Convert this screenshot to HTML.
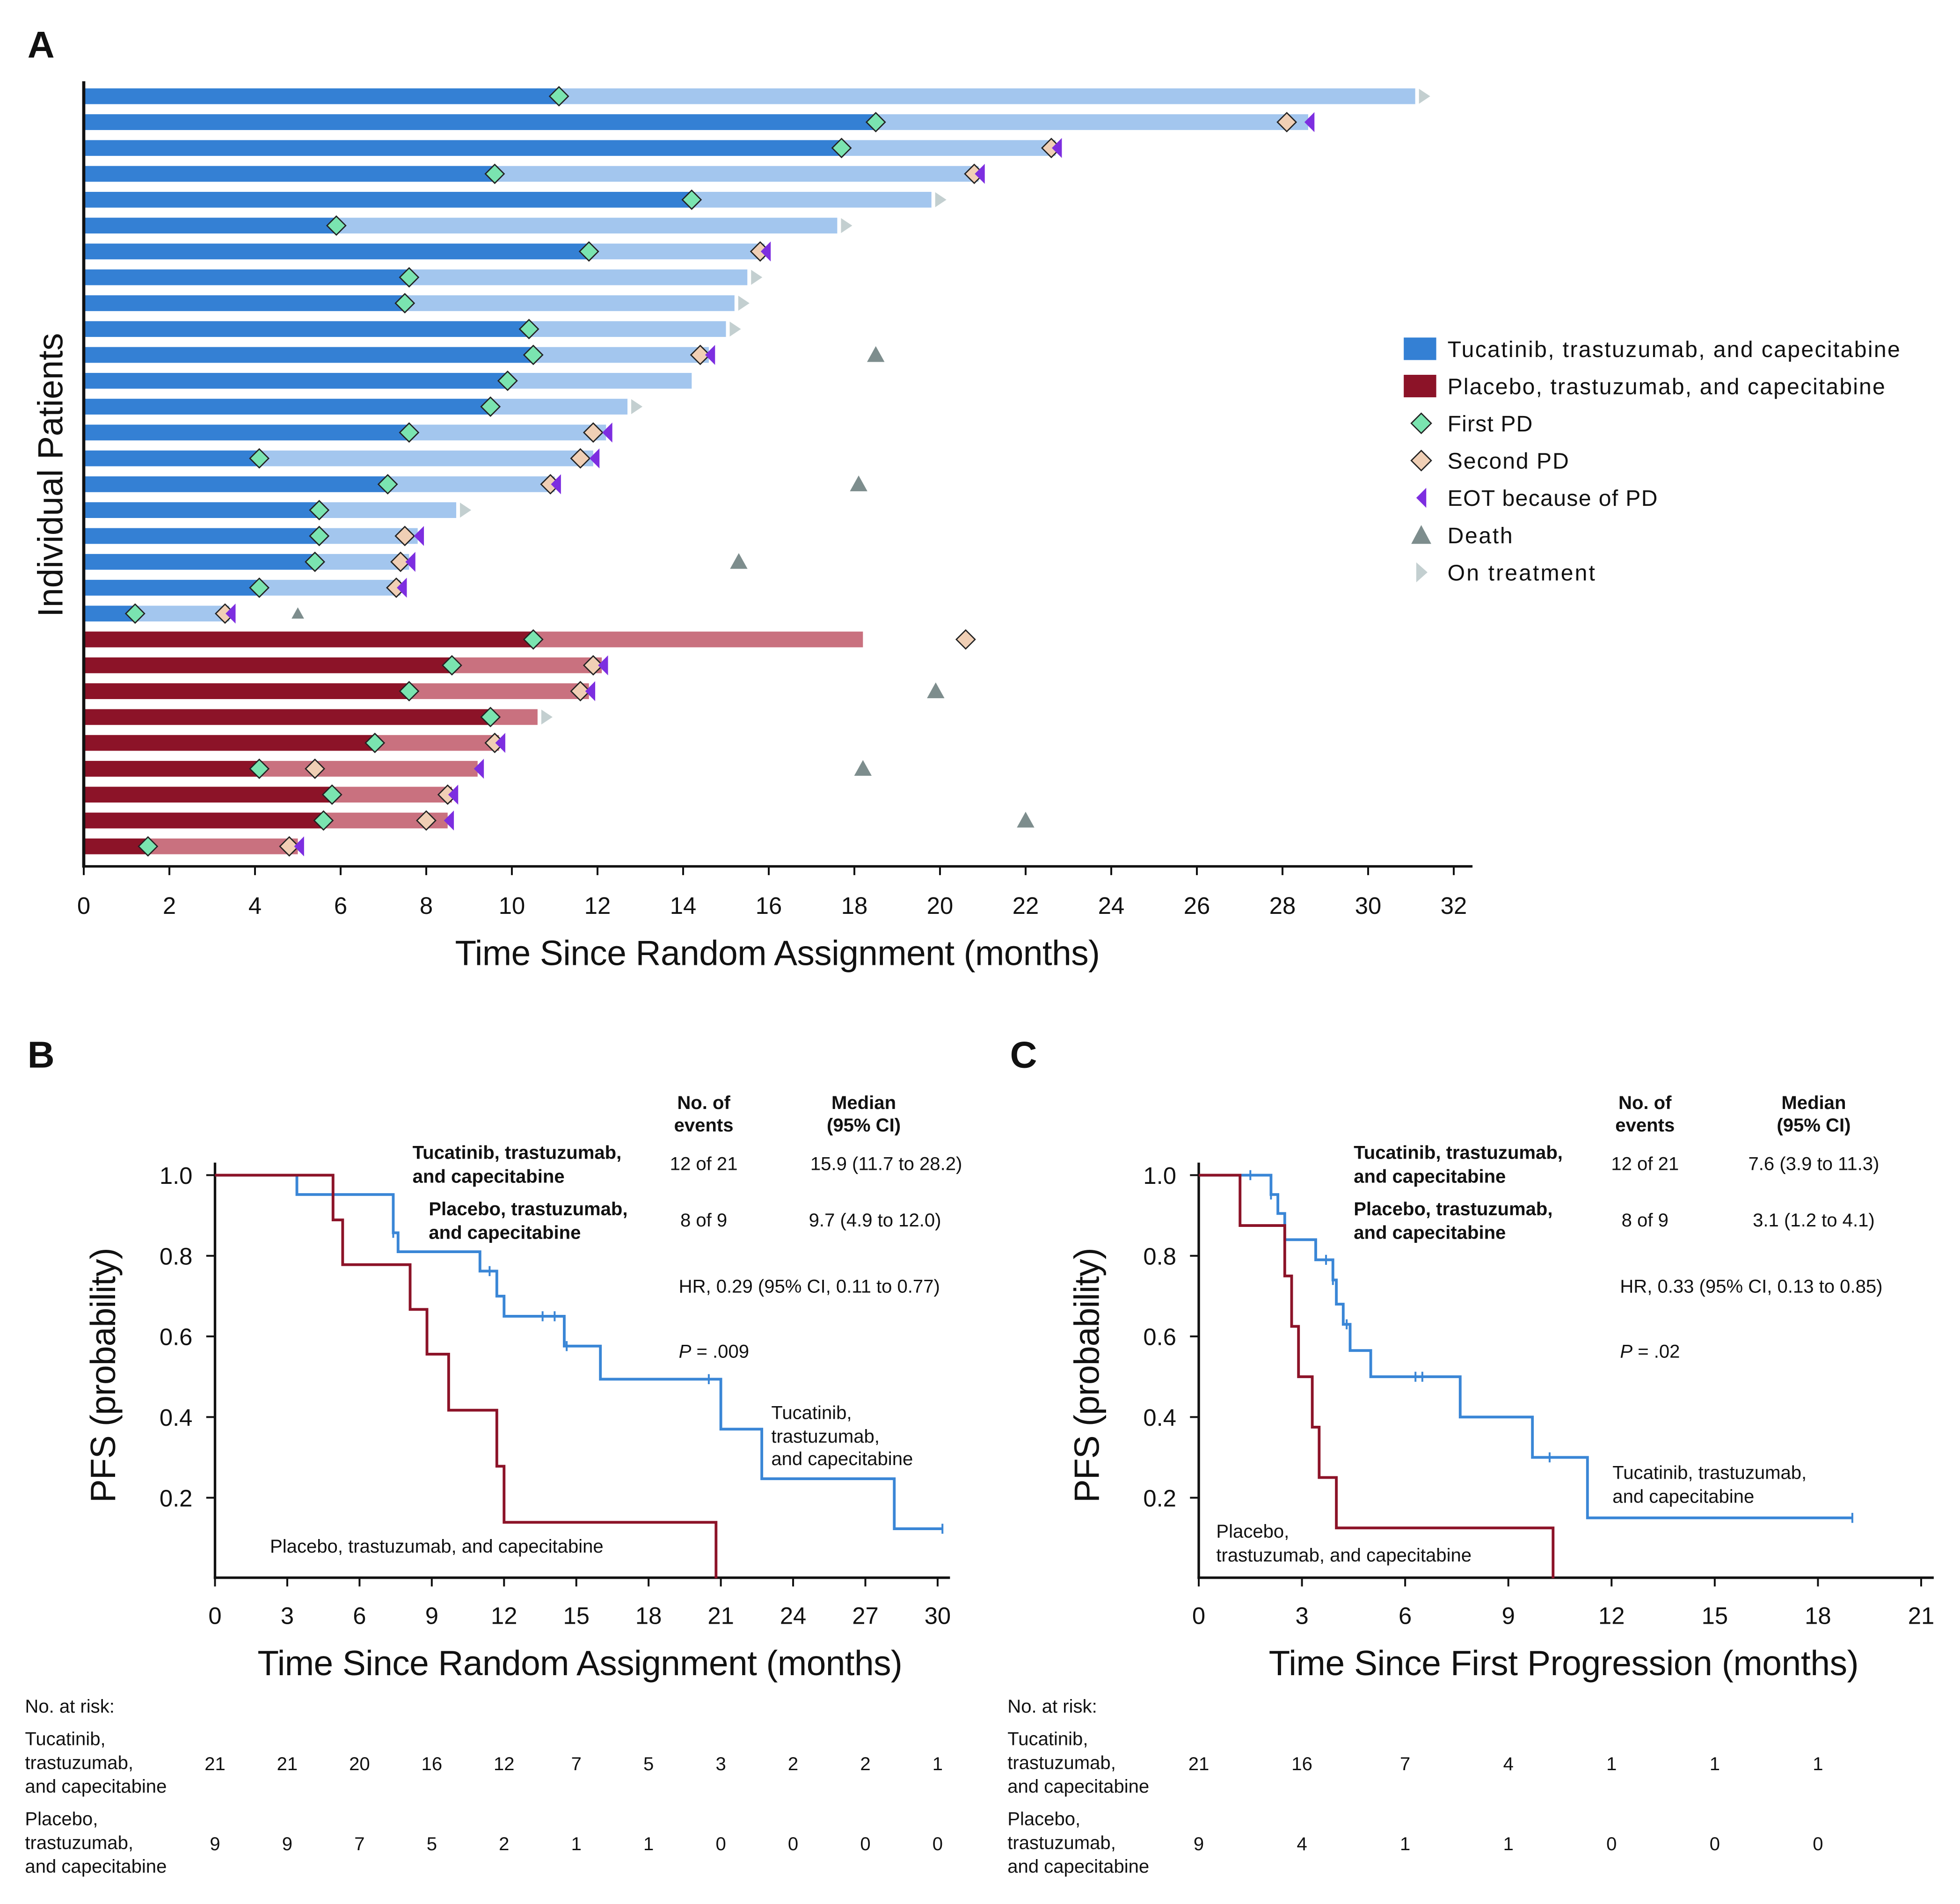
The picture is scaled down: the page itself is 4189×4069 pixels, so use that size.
<!DOCTYPE html>
<html><head><meta charset="utf-8"><style>
html,body{margin:0;padding:0;background:#fff}
svg{display:block}
text{font-family:"Liberation Sans",Arial,sans-serif;fill:#111}
.t{font-size:19px}
.ttl{font-size:28px;font-family:"Liberation Sans Narrow","Liberation Sans",sans-serif}
.s{font-size:15px}
.b{font-weight:bold}
</style></head><body>
<svg id="fig" xmlns="http://www.w3.org/2000/svg" width="4189" height="4069" viewBox="0 0 1568 1523" preserveAspectRatio="none">
<g id="A"></g>
<g id="B"></g>
<g id="C"></g>
</svg>
<script>
// ---------- Panel A data ----------
const armA = ['T','T','T','T','T','T','T','T','T','T','T','T','T','T','T','T','T','T','T','T','T','P','P','P','P','P','P','P','P','P'];
const firstPD = [11.1,18.5,17.7,9.6,14.2,5.9,11.8,7.6,7.5,10.4,10.5,9.9,9.5,7.6,4.1,7.1,5.5,5.5,5.4,4.1,1.2,10.5,8.6,7.6,9.5,6.8,4.1,5.8,5.6,1.5];
const barEnd = [31.1,28.6,22.7,20.9,19.8,17.6,15.9,15.5,15.2,15.0,14.6,14.2,12.7,12.2,11.9,11.0,8.7,7.8,7.6,7.4,3.4,18.2,12.1,11.8,10.6,9.7,9.2,8.6,8.5,5.0];
const secondPD = [null,28.1,22.6,20.8,null,null,15.8,null,null,null,14.4,null,null,11.9,11.6,10.9,null,7.5,7.4,7.3,3.3,20.6,11.9,11.6,null,9.6,5.4,8.5,8.0,4.8];
const eotPD = [null,28.6,22.7,20.9,null,null,15.9,null,null,null,14.6,null,null,12.2,11.9,11.0,null,7.8,7.6,7.4,3.4,null,12.1,11.8,null,9.7,9.2,8.6,8.5,5.0];
const onTreat = [31.1,null,null,null,19.8,17.6,null,15.5,15.2,15.0,null,null,12.7,null,null,null,8.7,null,null,null,null,null,null,null,10.6,null,null,null,null,null];
const death = [null,null,null,null,null,null,null,null,null,null,18.5,null,null,null,null,18.1,null,null,15.3,null,5.0,null,null,19.9,null,null,18.2,null,22.0,null];
const xTicksA = [0,2,4,6,8,10,12,14,16,18,20,22,24,26,28,30,32];

// ---------- Panel B data ----------
const bBlueT = [0,3.4,7.4,7.6,11.0,11.7,12.0,14.5,16.0,21.0,22.7,28.2,30.2];
const bBlueS = [1.0,0.952,0.857,0.81,0.762,0.70,0.65,0.576,0.494,0.37,0.247,0.123,0.123];
const bBlueCens = [7.4,11.4,13.6,14.1,14.6,20.5,30.2];
const bRedT = [0,4.9,5.3,8.1,8.8,9.7,11.7,12.0,20.8];
const bRedS = [1.0,0.889,0.778,0.667,0.556,0.417,0.278,0.139,0];
const xTicksB = [0,3,6,9,12,15,18,21,24,27,30];
const riskBT = [21,21,20,16,12,7,5,3,2,2,1];
const riskBP = [9,9,7,5,2,1,1,0,0,0,0];

// ---------- Panel C data ----------
const cBlueT = [0,2.1,2.3,2.5,3.4,3.9,4.0,4.2,4.4,5.0,7.6,9.7,11.3,19.0];
const cBlueS = [1.0,0.952,0.905,0.84,0.79,0.74,0.68,0.63,0.565,0.50,0.40,0.30,0.15,0.15];
const cBlueCens = [1.5,2.1,3.7,3.9,4.3,6.3,6.5,10.2,19.0];
const cRedT = [0,1.2,2.5,2.7,2.9,3.3,3.5,4.0,10.3];
const cRedS = [1.0,0.875,0.75,0.625,0.5,0.375,0.25,0.125,0];
const xTicksC = [0,3,6,9,12,15,18,21];
const riskCT = [21,16,7,4,1,1,1];
const riskCP = [9,4,1,1,0,0,0];
const yTicks = [0.2,0.4,0.6,0.8,1.0];

const NS='http://www.w3.org/2000/svg';
function mk(parent,tag,attrs,txt){const e=document.createElementNS(NS,tag);for(const k in attrs)e.setAttribute(k,attrs[k]);if(txt!==undefined)e.textContent=txt;parent.appendChild(e);return e;}

// ===== Panel A =====
const A=document.getElementById('A');
const axA=v=>67+v*34.25;
const rowY=i=>77+i*20.69;
let e;
e=mk(A,'text',{x:22,y:46,'font-size':30,'font-weight':'bold'},'A');


for(let i=0;i<armA.length;i++){
  const y=rowY(i),T=armA[i]==='T';
  const dk=T?'#3480d4':'#8c1328',lt=T?'#a3c6ee':'#c9717f';
  e=mk(A,'rect',{x:axA(0),y:y-6.3,width:axA(barEnd[i])-axA(0),height:12.6,fill:lt});
  
  
  e=mk(A,'rect',{x:axA(0),y:y-6.3,width:axA(firstPD[i])-axA(0),height:12.6,fill:dk});
  
  
  if(onTreat[i]!=null){const x=axA(onTreat[i])+3;
    e=mk(A,'polygon',{points:`${x},${y-6} ${x+9},${y} ${x},${y+6}`,fill:'#c3cfd0'});
    
    }
  if(secondPD[i]!=null){const x=axA(secondPD[i]);
    e=mk(A,'polygon',{points:`${x},${y-7.5} ${x+7.5},${y} ${x},${y+7.5} ${x-7.5},${y}`,fill:'#f0cfb5',stroke:'#222','stroke-width':1});
    
    }
  if(eotPD[i]!=null){const x=axA(eotPD[i])+5;
    e=mk(A,'polygon',{points:`${x},${y-8} ${x-8},${y} ${x},${y+8}`,fill:'#7d2ee0'});
    
    }
  {const x=axA(firstPD[i]);
    e=mk(A,'polygon',{points:`${x},${y-7.5} ${x+7.5},${y} ${x},${y+7.5} ${x-7.5},${y}`,fill:'#7ae4b0',stroke:'#222','stroke-width':1});
    
    }
  if(death[i]!=null){const x=axA(death[i]);const s=i===20?5:7;
    e=mk(A,'polygon',{points:`${x},${y-s} ${x+s},${y+s*0.8} ${x-s},${y+s*0.8}`,fill:'#7d8d8d'});
    
    }
}
e=mk(A,'line',{x1:67,y1:65,x2:67,y2:694,stroke:'#111','stroke-width':2.5});


e=mk(A,'line',{x1:66,y1:693,x2:1178,y2:693,stroke:'#111','stroke-width':2});


xTicksA.forEach(v=>{
  e=mk(A,'line',{x1:axA(v),y1:693,x2:axA(v),y2:700,stroke:'#111','stroke-width':1.5});
  
  
  e=mk(A,'text',{x:axA(v),y:731,'text-anchor':'middle',class:'t'},String(v));
  
  
});
e=mk(A,'text',{x:622,y:772,'text-anchor':'middle',class:'ttl',textLength:516},'Time Since Random Assignment (months)');


e=mk(A,'text',{x:50,y:380,'text-anchor':'middle',class:'ttl',transform:'rotate(-90 50 380)'},'Individual Patients');


// legend
const lg=mk(A,'g',{});


const legT=['Tucatinib, trastuzumab, and capecitabine','Placebo, trastuzumab, and capecitabine','First PD','Second PD','EOT because of PD','Death','On treatment'];
const legW=[362,350,68,97,168,52,118];
legT.forEach((t,k)=>{
  const y=279+k*29.8,x=1137;
  if(k<2) mk(lg,'rect',{x:1123,y:y-9,width:26,height:18,fill:k?'#8c1328':'#3480d4'});
  else if(k<4) mk(lg,'polygon',{points:`${x},${y-8} ${x+8},${y} ${x},${y+8} ${x-8},${y}`,fill:k===2?'#7ae4b0':'#f0cfb5',stroke:'#222','stroke-width':1});
  else if(k===4) mk(lg,'polygon',{points:`${x+4},${y-8} ${x-4},${y} ${x+4},${y+8}`,fill:'#7d2ee0'});
  else if(k===5) mk(lg,'polygon',{points:`${x},${y-8} ${x+8},${y+7} ${x-8},${y+7}`,fill:'#7d8d8d'});
  else mk(lg,'polygon',{points:`${x-4},${y-8} ${x+5},${y} ${x-4},${y+8}`,fill:'#c3cfd0'});
  e=mk(lg,'text',{x:1158,y:y+6.5,'font-size':18,textLength:legW[k]},t);
  
  
});

// ===== KM panels =====
function km(G,o){
  const ax=v=>o.x0+v*o.px, ay=s=>1262.5-s*322.5;
  e=mk(G,'text',{x:o.lx,y:854,'font-size':30,'font-weight':'bold'},o.label);
  
  
  e=mk(G,'line',{x1:o.x0,y1:930,x2:o.x0,y2:1263,stroke:'#111','stroke-width':2});
  
  
  e=mk(G,'line',{x1:o.x0-1,y1:1262,x2:o.xend,y2:1262,stroke:'#111','stroke-width':2});
  
  
  yTicks.forEach(v=>{
    e=mk(G,'line',{x1:o.x0-7,y1:ay(v),x2:o.x0,y2:ay(v),stroke:'#111','stroke-width':1.5});
    
    
    e=mk(G,'text',{x:o.x0-18,y:ay(v)+7,'text-anchor':'end',class:'t'},v.toFixed(1));
    
    
  });
  o.ticks.forEach((v,k)=>{
    e=mk(G,'line',{x1:ax(v),y1:1262,x2:ax(v),y2:1269,stroke:'#111','stroke-width':1.5});
    
    
    e=mk(G,'text',{x:ax(v),y:1299,'text-anchor':'middle',class:'t'},String(v));
    
    
    if(o.rt[k]!==undefined){
    e=mk(G,'text',{x:ax(v),y:1416,'text-anchor':'middle',class:'s'},String(o.rt[k]));
    
    }
    if(o.rp[k]!==undefined){
    e=mk(G,'text',{x:ax(v),y:1480,'text-anchor':'middle',class:'s'},String(o.rp[k]));
    
    }
  });
  e=mk(G,'text',{x:o.xtc,y:1340,'text-anchor':'middle',class:'ttl',textLength:o.xtl},o.xtitle);
  
  
  const ty=1100,tx=o.x0-80;
  e=mk(G,'text',{x:tx,y:ty,'text-anchor':'middle',class:'ttl',transform:`rotate(-90 ${tx} ${ty})`,textLength:204},'PFS (probability)');
  
  
  function step(T,S,col,name){
    let d=`M${ax(T[0])},${ay(S[0])}`;
    for(let i=1;i<T.length;i++){d+=` H${ax(T[i])} V${ay(S[i])}`;}
    e=mk(G,'path',{d,fill:'none',stroke:col,'stroke-width':2.2});
    
    
  }
  step(o.bt,o.bs,'#3a86d6','km-line-tucatinib');
  step(o.rT,o.rS,'#8c1328','km-line-placebo');
  o.cens.forEach(c=>{
    let s=o.bs[0];for(let i=0;i<o.bt.length;i++)if(o.bt[i]<=c)s=o.bs[i];
    e=mk(G,'line',{x1:ax(c),y1:ay(s)-4,x2:ax(c),y2:ay(s)+4,stroke:'#3a86d6','stroke-width':1.5});
    
    
  });
  const tb=[[o.ce,882,'No. of'],[o.ce,900,'events'],[o.cm,882,'Median'],[o.cm,900,'(95% CI)']];
  tb.forEach(r=>{e=mk(G,'text',{x:r[0],y:r[1]+5,'text-anchor':'middle',class:'s b'},r[2]);
    
    });
  o.bold.forEach(r=>{e=mk(G,'text',{x:r[0],y:r[1]+5,class:'s b'},r[2]);
    
    });
  o.plain.forEach(r=>{e=mk(G,'text',{x:r[0],y:r[1]+5,class:'s','text-anchor':r[3]||'start'},r[2]);
    
    });
  e=mk(G,'text',{x:o.px0,y:1086,class:'s'});
  
  
  mk(e,'tspan',{'font-style':'italic'},'P');
  mk(e,'tspan',{},' = '+o.p);
  const rl=[['No. at risk:',1365],['Tucatinib,',1391],['trastuzumab,',1410],['and capecitabine',1429],['Placebo,',1455],['trastuzumab,',1474],['and capecitabine',1493]];
  rl.forEach(r=>{e=mk(G,'text',{x:o.lx-2,y:r[1]+5,class:'s'},r[0]);
    
    });
}
km(document.getElementById('B'),{x0:172,px:19.27,xend:760,label:'B',lx:22,ticks:xTicksB,rt:riskBT,rp:riskBP,
  xtitle:'Time Since Random Assignment (months)',xtc:464,xtl:516,bt:bBlueT,bs:bBlueS,rT:bRedT,rS:bRedS,cens:bBlueCens,
  ce:563,cm:691,p:'.009',px0:543,
  bold:[[330,922,'Tucatinib, trastuzumab,'],[330,941,'and capecitabine'],[343,967,'Placebo, trastuzumab,'],[343,986,'and capecitabine']],
  plain:[[563,931,'12 of 21','middle'],[709,931,'15.9 (11.7 to 28.2)','middle'],[563,976,'8 of 9','middle'],[700,976,'9.7 (4.9 to 12.0)','middle'],
    [543,1029,'HR, 0.29 (95% CI, 0.11 to 0.77)'],[617,1130,'Tucatinib,'],[617,1149,'trastuzumab,'],[617,1167,'and capecitabine'],[216,1237,'Placebo, trastuzumab, and capecitabine']]});
km(document.getElementById('C'),{x0:959,px:27.52,xend:1547,label:'C',lx:808,ticks:xTicksC,rt:riskCT,rp:riskCP,
  xtitle:'Time Since First Progression (months)',xtc:1251,xtl:472,bt:cBlueT,bs:cBlueS,rT:cRedT,rS:cRedS,cens:cBlueCens,
  ce:1316,cm:1451,p:'.02',px0:1296,
  bold:[[1083,922,'Tucatinib, trastuzumab,'],[1083,941,'and capecitabine'],[1083,967,'Placebo, trastuzumab,'],[1083,986,'and capecitabine']],
  plain:[[1316,931,'12 of 21','middle'],[1451,931,'7.6 (3.9 to 11.3)','middle'],[1316,976,'8 of 9','middle'],[1451,976,'3.1 (1.2 to 4.1)','middle'],
    [1296,1029,'HR, 0.33 (95% CI, 0.13 to 0.85)'],[1290,1178,'Tucatinib, trastuzumab,'],[1290,1197,'and capecitabine'],[973,1225,'Placebo,'],[973,1244,'trastuzumab, and capecitabine']]});
</script>
</body></html>
